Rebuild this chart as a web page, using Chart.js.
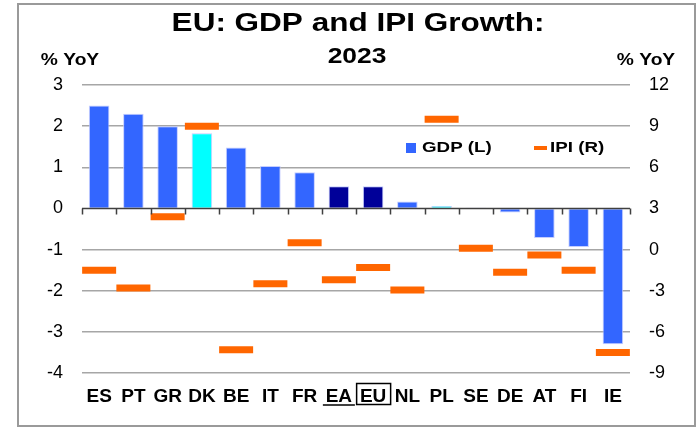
<!DOCTYPE html>
<html>
<head>
<meta charset="utf-8">
<script src="https://cdn.jsdelivr.net/npm/chart.js@4"></script>
<style>
  body { margin: 0; background: #fff; }
  #wrap { position: relative; width: 697px; height: 427px; }
  #frame {
    position: absolute; left: 17px; top: 3px; width: 675px; height: 420px;
    border: 2px solid #9a9a9a; pointer-events: none;
  }
  canvas { position: absolute; left: 0; top: 0; }
</style>
</head>
<body>
<div id="wrap">
  <canvas id="chart" width="697" height="427"></canvas>
  <div id="frame"></div>
</div>
<script>
// ===============================
// Data
// ===============================
const countries = ["ES", "PT", "GR", "DK", "BE", "IT", "FR", "EA", "EU", "NL", "PL", "SE", "DE", "AT", "FI", "IE"];
const gdpGrowth = [2.5, 2.3, 2.0, 1.83, 1.48, 1.03, 0.88, 0.54, 0.54, 0.17, 0.06, 0.02, -0.1, -0.72, -0.94, -3.3];
const ipiGrowth = [-1.5, -2.8, 2.4, 9.0, -7.3, -2.5, 0.5, -2.2, -1.3, -2.95, 9.5, 0.1, -1.65, -0.4, -1.5, -7.5];
const leftTicks = [-4, 3, 1];   // min, max, step
const rightTicks = [-9, 12, 3]; // min, max, step

// ===============================
// Styles
// ===============================
const BLUE = "#3366FF";
const CYAN = "#00FFFF";
const NAVY = "#000099";
const ORANGE = "#FF6600";
const aggregates = ["EA", "EU"];
const cyanBars = ["DK", "PL"];

const barColors = countries.map((c) => {
  if (aggregates.includes(c)) return NAVY;
  if (cyanBars.includes(c)) return CYAN;
  if (c === "SE") return "#006666";
  return BLUE;
});

const FONT = "'Liberation Sans', Arial, sans-serif";

// text drawn a little wider than normal, like the original
function wideText(ctx, text, x, y, font, sx, align) {
  ctx.save();
  ctx.font = font;
  ctx.textBaseline = "middle";
  ctx.textAlign = align;
  ctx.translate(x, y);
  ctx.scale(sx, 1);
  ctx.fillText(text, 0, 0);
  ctx.restore();
}

// ===============================
// Custom drawing: titles, legend, zero line, label marks
// ===============================
const decorations = {
  id: "decorations",
  afterDatasetsDraw(chart) {
    const { ctx, chartArea, scales } = chart;
    const zeroY = scales.y.getPixelForValue(0);

    ctx.save();
    // zero line with tick marks between categories
    ctx.strokeStyle = "#404040";
    ctx.lineWidth = 1.5;
    ctx.beginPath();
    ctx.moveTo(chartArea.left, zeroY);
    ctx.lineTo(chartArea.right, zeroY);
    const step = (chartArea.right - chartArea.left) / countries.length;
    for (let i = 0; i <= countries.length; i++) {
      const px = Math.round(chartArea.left + i * step) + 0.5;
      ctx.moveTo(px, zeroY);
      ctx.lineTo(px, zeroY + 6);
    }
    ctx.stroke();
    ctx.restore();
  },
  afterDraw(chart) {
    const { ctx, scales } = chart;
    const x = scales.x;
    ctx.save();
    ctx.fillStyle = "#000";

    // titles
    wideText(ctx, "EU: GDP and IPI Growth:", 358, 24, `bold 25px ${FONT}`, 1.26, "center");
    wideText(ctx, "2023", 357, 57, `bold 22px ${FONT}`, 1.2, "center");

    // axis unit labels
    wideText(ctx, "% YoY", 70, 61, `bold 16px ${FONT}`, 1.2, "center");
    wideText(ctx, "% YoY", 646, 61, `bold 16px ${FONT}`, 1.2, "center");

    // legend
    const legendY = 148;
    ctx.fillStyle = BLUE;
    ctx.fillRect(406, legendY - 5, 10, 10);
    ctx.fillStyle = "#000";
    wideText(ctx, "GDP (L)", 422, legendY, `bold 15px ${FONT}`, 1.25, "left");
    ctx.fillStyle = ORANGE;
    ctx.fillRect(534, legendY - 2, 13, 4);
    ctx.fillStyle = "#000";
    wideText(ctx, "IPI (R)", 550, legendY, `bold 15px ${FONT}`, 1.25, "left");

    // EA underline, EU box
    const ea = x.getPixelForValue(countries.indexOf("EA"));
    const eu = x.getPixelForValue(countries.indexOf("EU"));
    ctx.strokeStyle = "#000";
    ctx.lineWidth = 1.5;
    ctx.beginPath();
    ctx.moveTo(ea - 16, 405);
    ctx.lineTo(ea + 16, 405);
    ctx.stroke();
    ctx.strokeRect(eu - 16.5, 383.5, 34, 21);
    ctx.restore();
  },
};

// ===============================
// Chart
// ===============================
const chart = new Chart(document.getElementById("chart").getContext("2d"), {
  data: {
    labels: countries,
    datasets: [
      {
        type: "line",
        label: "IPI (R)",
        data: ipiGrowth,
        yAxisID: "y1",
        showLine: false,
        pointStyle: "line",
        pointRadius: 17,
        pointBorderWidth: 7,
        borderColor: ORANGE,
        backgroundColor: ORANGE,
        order: 0,
      },
      {
        type: "bar",
        label: "GDP (L)",
        data: gdpGrowth,
        yAxisID: "y",
        backgroundColor: barColors,
        borderColor: "rgba(190,200,255,0.9)",
        borderWidth: 1,
        barPercentage: 0.6,
        categoryPercentage: 1,
        order: 1,
      },
    ],
  },
  options: {
    responsive: false,
    animation: false,
    events: [],
    layout: { padding: { top: 85, left: 0, right: 0, bottom: 0 } },
    plugins: {
      legend: { display: false },
      tooltip: { enabled: false },
      title: { display: false },
    },
    scales: {
      x: {
        grid: { display: false, drawTicks: false },
        border: { display: false },
        ticks: {
          color: "#000",
          font: { family: FONT, size: 19, weight: "bold" },
          padding: 12,
          maxRotation: 0,
          autoSkip: false,
        },
        afterFit: (s) => { s.height = 54; },
      },
      y: {
        position: "left",
        min: leftTicks[0],
        max: leftTicks[1],
        ticks: {
          stepSize: leftTicks[2],
          color: "#000",
          font: { family: FONT, size: 18 },
          padding: 19,
        },
        grid: {
          color: (c) => (c.tick.value === 0 ? "rgba(0,0,0,0)" : "#A6A6A6"),
          lineWidth: 1.5,
          drawTicks: false,
        },
        border: { display: false },
        afterFit: (s) => { s.width = 82; },
      },
      y1: {
        position: "right",
        min: rightTicks[0],
        max: rightTicks[1],
        ticks: {
          stepSize: rightTicks[2],
          color: "#000",
          font: { family: FONT, size: 18 },
          padding: 19,
        },
        grid: { display: false, drawTicks: false },
        border: { display: false },
        afterFit: (s) => { s.width = 67; },
      },
    },
  },
  plugins: [decorations],
});
</script>
</body>
</html>
